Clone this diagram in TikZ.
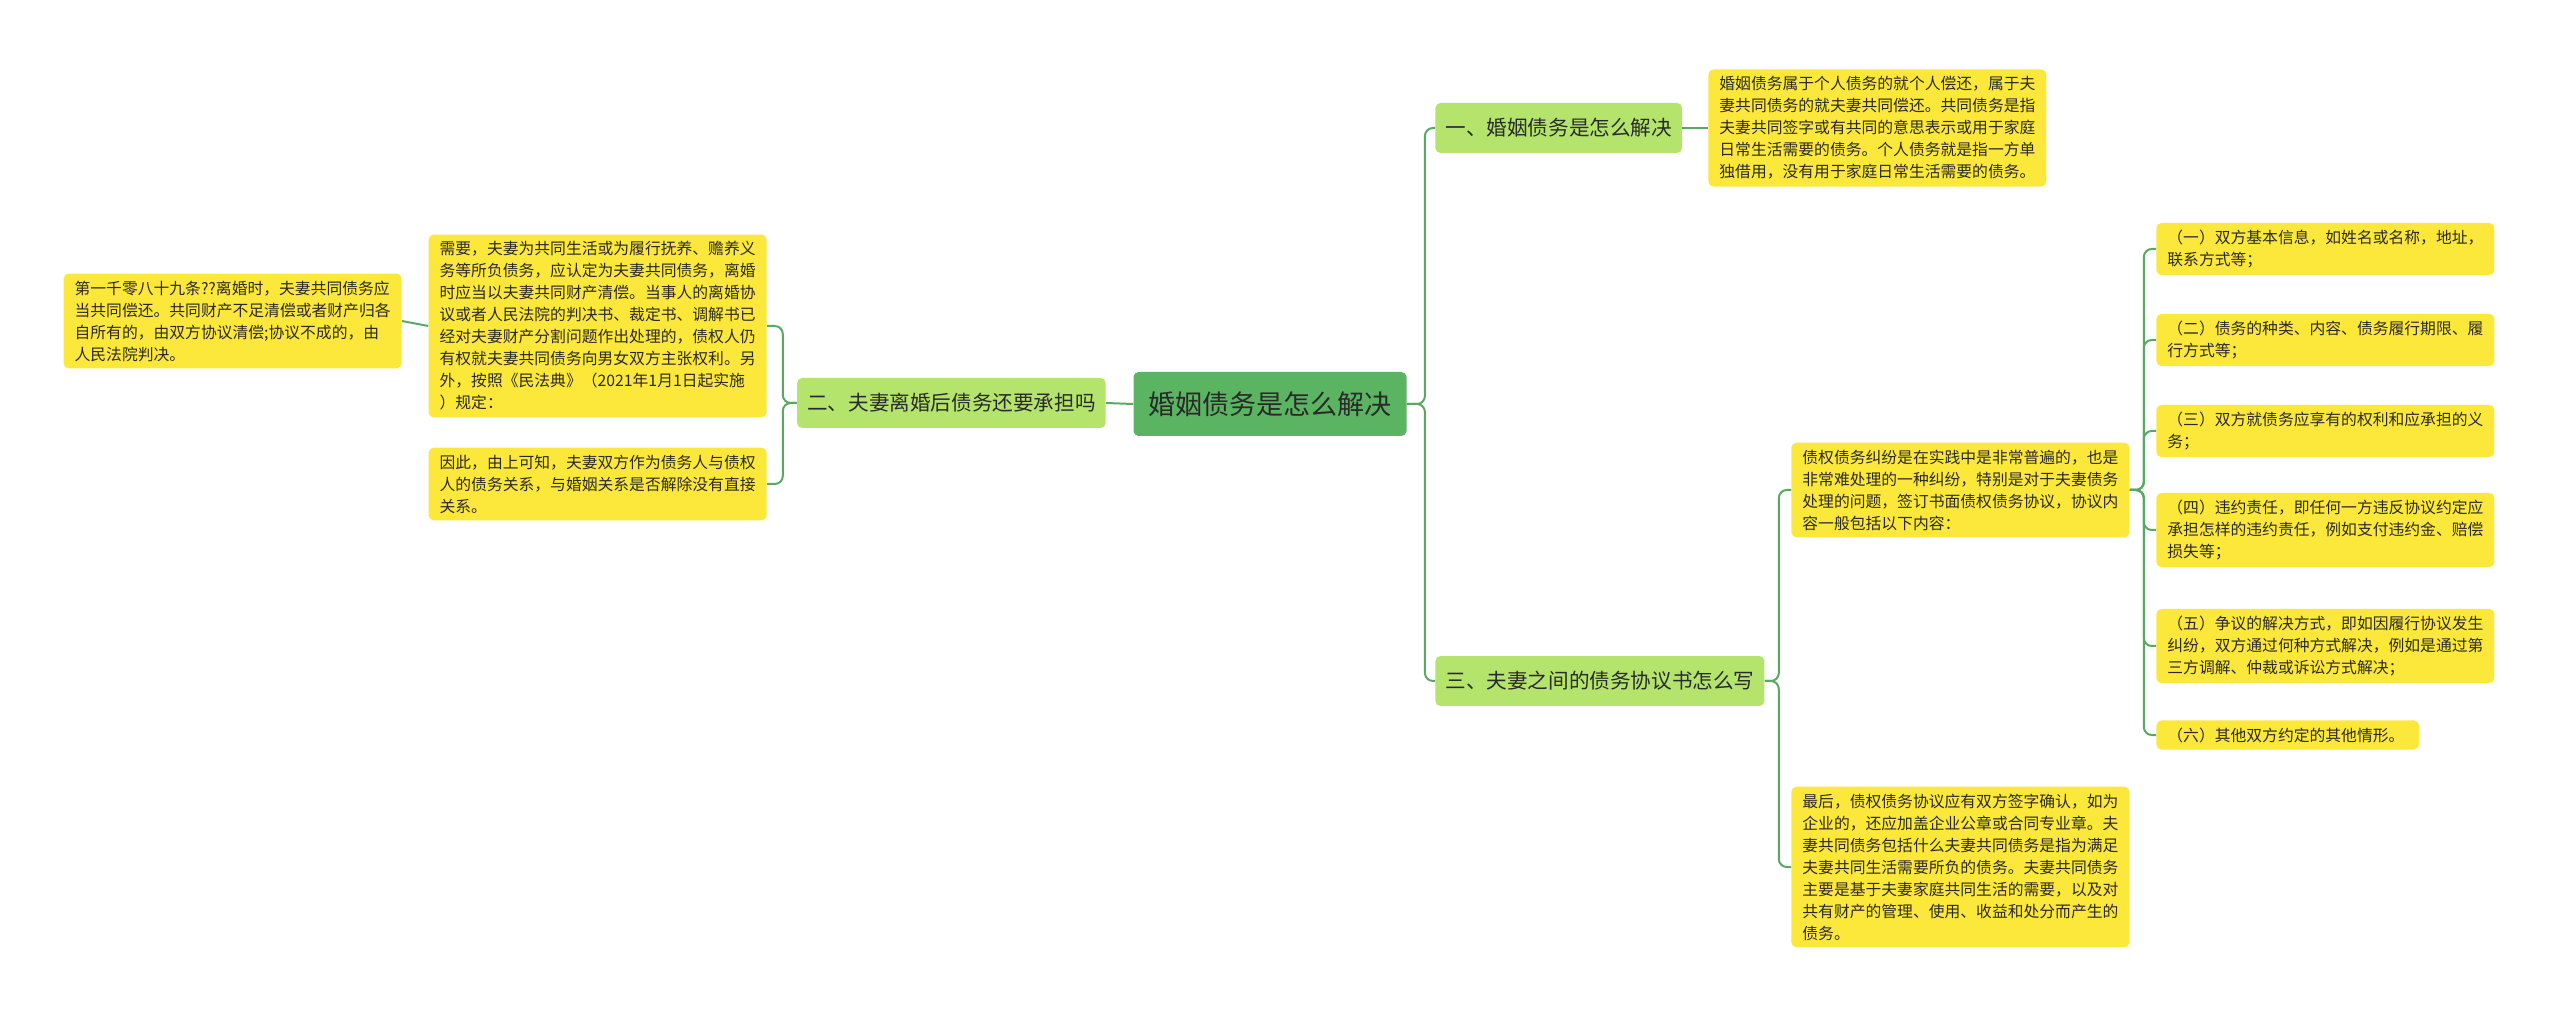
\documentclass[tikz,border=0pt]{standalone}
\usepackage{xcolor}
\usepackage{fontspec}
\setmainfont{Noto Sans CJK SC}
\usepackage{tikz}
\usetikzlibrary{positioning,calc}

\definecolor{rootgreen}{HTML}{5BB461}
\definecolor{branchgreen}{HTML}{B4E46C}
\definecolor{leafyellow}{HTML}{FCE83A}
\definecolor{linegreen}{HTML}{5AA962}
\definecolor{inkgray}{HTML}{2A2A2A}

\begin{document}
\begin{tikzpicture}[x=0.5pt,y=-0.5pt,
    topic/.style={rectangle,rounded corners=2.5pt,fill=rootgreen,text=inkgray,minimum height=32pt,inner xsep=7.5pt,font=\fontsize{13.5}{16}\selectfont},
    branch/.style={rectangle,rounded corners=2.5pt,fill=branchgreen,text=inkgray,minimum height=25pt,inner xsep=5pt,font=\fontsize{10.3}{12}\selectfont},
    leaf/.style={rectangle,rounded corners=2.5pt,fill=leafyellow,text=inkgray,align=left,inner xsep=5.5pt,inner ysep=3.5pt,font=\fontsize{7.9}{11}\selectfont},
    link/.style={draw=linegreen,line width=1pt,rounded corners=4pt}
    ]

    \useasboundingbox (0,0) rectangle (2560,1015);

    \node[topic] (root) at (1270,404) {婚姻债务是怎么解决};

    \node[branch,anchor=west] (solve) at (1435,128) {一、婚姻债务是怎么解决};

    \node[branch,anchor=east] (divorce) at (1106,403) {二、夫妻离婚后债务还要承担吗};

    \node[branch,anchor=west] (agreement) at (1435,681) {三、夫妻之间的债务协议书怎么写};

    \node[leaf,anchor=west] (solvetext) at (1708,128) {
      婚姻债务属于个人债务的就个人偿还，属于夫\\
      妻共同债务的就夫妻共同偿还。共同债务是指\\
      夫妻共同签字或有共同的意思表示或用于家庭\\
      日常生活需要的债务。个人债务就是指一方单\\
      独借用，没有用于家庭日常生活需要的债务。
    };

    \node[leaf,anchor=east] (need) at (767,326) {
      需要，夫妻为共同生活或为履行抚养、赡养义\\
      务等所负债务，应认定为夫妻共同债务，离婚\\
      时应当以夫妻共同财产清偿。当事人的离婚协\\
      议或者人民法院的判决书、裁定书、调解书已\\
      经对夫妻财产分割问题作出处理的，债权人仍\\
      有权就夫妻共同债务向男女双方主张权利。另\\
      外，按照《民法典》（2021年1月1日起实施\\
      ）规定：
    };

    \node[leaf,anchor=east] (therefore) at (767,484) {
      因此，由上可知，夫妻双方作为债务人与债权\\
      人的债务关系，与婚姻关系是否解除没有直接\\
      关系。
    };

    \node[leaf,anchor=east] (article) at (402,321) {
      第一千零八十九条??离婚时，夫妻共同债务应\\
      当共同偿还。共同财产不足清偿或者财产归各\\
      自所有的，由双方协议清偿;协议不成的，由\\
      人民法院判决。
    };

    \node[leaf,anchor=west] (dispute) at (1791,490) {
      债权债务纠纷是在实践中是非常普遍的，也是\\
      非常难处理的一种纠纷，特别是对于夫妻债务\\
      处理的问题，签订书面债权债务协议，协议内\\
      容一般包括以下内容：
    };

    \node[leaf,anchor=west] (finally) at (1791,867) {
      最后，债权债务协议应有双方签字确认，如为\\
      企业的，还应加盖企业公章或合同专业章。夫\\
      妻共同债务包括什么夫妻共同债务是指为满足\\
      夫妻共同生活需要所负的债务。夫妻共同债务\\
      主要是基于夫妻家庭共同生活的需要，以及对\\
      共有财产的管理、使用、收益和处分而产生的\\
      债务。
    };

    \node[leaf,anchor=west] (item1) at (2156,249) {
      （一）双方基本信息，如姓名或名称，地址，\\
      联系方式等；
    };

    \node[leaf,anchor=west] (item2) at (2156,340) {
      （二）债务的种类、内容、债务履行期限、履\\
      行方式等；
    };

    \node[leaf,anchor=west] (item3) at (2156,431) {
      （三）双方就债务应享有的权利和应承担的义\\
      务；
    };

    \node[leaf,anchor=west] (item4) at (2156,530) {
      （四）违约责任，即任何一方违反协议约定应\\
      承担怎样的违约责任，例如支付违约金、赔偿\\
      损失等；
    };

    \node[leaf,anchor=west] (item5) at (2156,646) {
      （五）争议的解决方式，即如因履行协议发生\\
      纠纷，双方通过何种方式解决，例如是通过第\\
      三方调解、仲裁或诉讼方式解决；
    };

    \node[leaf,anchor=west] (item6) at (2156,735) {
      （六）其他双方约定的其他情形。
    };

    \draw[link] (root.east) -- ++(18,0) |- (solve.west);
    \draw[link] (root.east) -- ++(18,0) |- (agreement.west);
    \draw[link] (root.west) -- (divorce.east);
    \draw[link] (solve.east) -- (solvetext.west);
    \draw[link] (divorce.west) -- ++(-14,0) |- (need.east);
    \draw[link] (divorce.west) -- ++(-14,0) |- (therefore.east);
    \draw[link] (need.west) -- (article.east);
    \draw[link] (agreement.east) -- ++(14,0) |- (dispute.west);
    \draw[link] (agreement.east) -- ++(14,0) |- (finally.west);
    \foreach \i in {1,...,6}
      \draw[link] (dispute.east) -- ++(14,0) |- (item\i.west);

  \end{tikzpicture}
\end{document}
